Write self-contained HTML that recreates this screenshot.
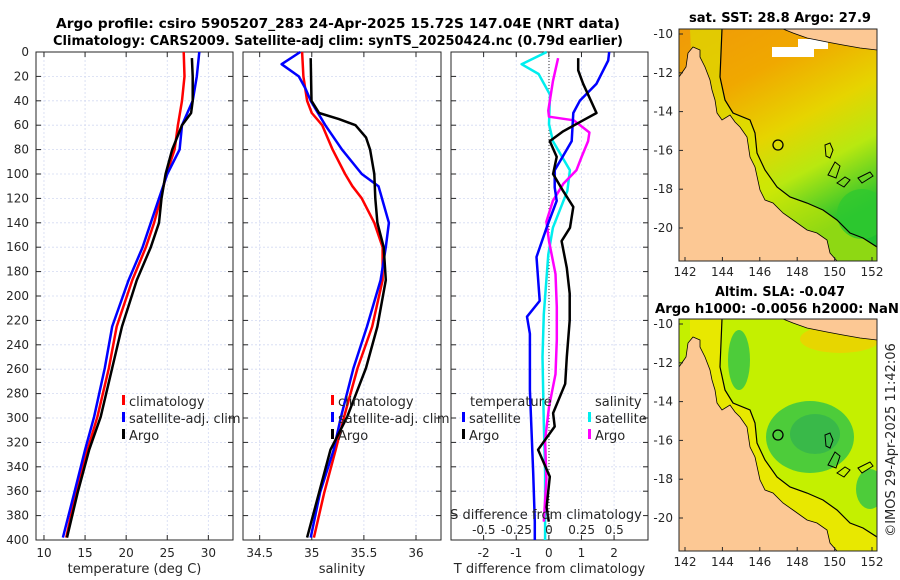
<!DOCTYPE html>
<html><head><meta charset="utf-8"><style>
body{margin:0;background:#fff}
svg{display:block;font-family:"DejaVu Sans","Liberation Sans",sans-serif}
.tk{font-size:12px;fill:#262626}
.ttl{font-size:13px;font-weight:bold;fill:#000}
.lab{font-size:13px;fill:#262626}
</style></head><body>
<svg id="fig" width="900" height="580" viewBox="0 0 900 580">
<text class="ttl" x="338" y="28" text-anchor="middle" textLength="564" lengthAdjust="spacingAndGlyphs">Argo profile: csiro 5905207_283 24-Apr-2025 15.72S 147.04E (NRT data)</text>
<text class="ttl" x="338" y="45" text-anchor="middle" textLength="570" lengthAdjust="spacingAndGlyphs">Climatology: CARS2009. Satellite-adj clim: synTS_20250424.nc (0.79d earlier)</text>
<g id="maps"></g>
<g id="panels"></g>
</svg>
<script>
// ---------- data ----------
const tDepthRed=[0,20,40,60,80,100,120,140,160,187,225,259,299,326,361,398];
const tClim=[27.0,27.1,26.8,26.3,25.9,24.9,24.2,23.4,22.4,20.75,18.85,17.9,16.5,15.3,13.9,12.7];
const tDepthBlack=[5,20,40,50,60,80,100,120,140,160,187,225,259,299,326,361,398];
const tArgo=[28.0,28.1,28.1,27.9,26.8,25.6,24.8,24.3,24.0,23.0,21.3,19.5,18.3,16.9,15.5,14.1,12.8];
const tDepthBlue=[0,20,40,60,80,100,120,140,160,187,225,259,299,326,361,398];
const tSat=[28.9,28.6,28.1,26.8,26.5,25.0,24.0,23.0,22.0,20.3,18.3,17.4,16.1,15.0,13.7,12.3];

const sDepthRed=[0,20,40,50,60,80,100,110,120,140,160,187,225,259,299,326,361,398];
const sClim=[34.907,34.92,34.955,35.0,35.10,35.20,35.32,35.39,35.48,35.60,35.68,35.68,35.58,35.44,35.31,35.23,35.12,35.02];
const sDepthBlack=[5,40,50,55,60,70,80,100,120,140,160,187,225,259,299,326,361,398];
const sArgo=[34.99,34.997,35.07,35.26,35.42,35.52,35.56,35.60,35.61,35.63,35.69,35.71,35.63,35.52,35.34,35.18,35.07,34.955];
const sDepthBlue=[0,10,20,30,40,60,80,100,110,140,160,187,225,259,299,326,361,398];
const sSat=[34.89,34.71,34.875,34.94,34.99,35.13,35.29,35.48,35.64,35.74,35.71,35.66,35.53,35.40,35.28,35.21,35.08,34.99];

const dtSatDepth=[0,7,26,40,50,73,85,97,111,122,144,168,204,217,231,277,345,385,400];
const dtSat=[1.85,1.82,1.46,0.95,0.75,0.70,0.44,0.18,0.18,0.24,-0.07,-0.38,-0.28,-0.67,-0.58,-0.58,-0.48,-0.43,-0.43];
const dtArgoDepth=[5,15,26,50,56,65,73,86,100,114,127,144,155,177,198,220,250,272,296,307,326,348,373,385];
const dtArgo=[0.90,0.90,1.05,1.46,1.05,0.44,0.03,0.24,0.13,0.44,0.75,0.65,0.39,0.55,0.64,0.64,0.55,0.50,0.13,0.18,-0.33,0.03,-0.07,0.0];
const dsSatDepth=[0,10,18,35,59,73,97,114,144,166,215,250,304,345,385,400];
const dsSat=[-0.018,-0.21,-0.08,0.008,0.0,0.03,0.16,0.14,0.03,-0.005,-0.04,-0.05,-0.04,-0.03,-0.03,-0.03];
const dsArgoDepth=[5,24,48,53,56,66,73,86,97,108,122,139,155,182,209,236,264,291,318,350,385];
const dsArgo=[0.07,0.03,-0.005,0.0,0.19,0.31,0.30,0.25,0.21,0.11,0.03,-0.02,0.0,0.05,0.06,0.06,0.05,0.0,-0.03,-0.02,-0.04];

const depthTicks=[0,20,40,60,80,100,120,140,160,180,200,220,240,260,280,300,320,340,360,380,400];
const tTicks=[10,15,20,25,30];
const sTicks=[34.5,35,35.5,36];
const dtTicks=[-2,-1,0,1,2];
const dsTicks=[-0.5,-0.25,0,0.25,0.5];
const dsTickLabels=['-0.5','-0.25','0','0.25','0.5'];
const lonTicks=[142,144,146,148,150,152];
const latTicks=[-10,-12,-14,-16,-18,-20];

// ---------- helpers ----------
const NS='http://www.w3.org/2000/svg';
function mk(tag,attrs,parent){const e=document.createElementNS(NS,tag);for(const k in attrs)e.setAttribute(k,attrs[k]);parent.appendChild(e);return e;}
const PT=52,PB=540;
const yD=d=>PT+d*(PB-PT)/400;
const panels=document.getElementById('panels');

function makePanel(name,x0,x1,xmin,xmax,ticks,tickLabels,xlabel,showY){
  const g=mk('g',{},panels);
  
  
  const sx=v=>x0+(v-xmin)*(x1-x0)/(xmax-xmin);
  depthTicks.forEach(d=>{if(d>0&&d<400){const l=mk('line',{x1:x0,x2:x1,y1:yD(d),y2:yD(d),stroke:'#d4daf2','stroke-width':0.8,'stroke-dasharray':'2,2'},g);
    }
    mk('line',{x1:x0,x2:x0+5,y1:yD(d),y2:yD(d),stroke:'#262626'},g);
    mk('line',{x1:x1-5,x2:x1,y1:yD(d),y2:yD(d),stroke:'#262626'},g);
    if(showY){const t=mk('text',{x:29,y:yD(d)+4,'text-anchor':'end',class:'tk'},g);t.textContent=d;
      }
  });
  ticks.forEach((v,i)=>{const X=sx(v);
    const l=mk('line',{x1:X,x2:X,y1:PT,y2:PB,stroke:'#d4daf2','stroke-width':0.8,'stroke-dasharray':'2,2'},g);
    
    mk('line',{x1:X,x2:X,y1:PB,y2:PB-5,stroke:'#262626'},g);
    mk('line',{x1:X,x2:X,y1:PT,y2:PT+5,stroke:'#262626'},g);
    const t=mk('text',{x:X,y:557,'text-anchor':'middle',class:'tk'},g);t.textContent=tickLabels?tickLabels[i]:v;
    
  });
  mk('rect',{x:x0,y:PT,width:x1-x0,height:PB-PT,fill:'none',stroke:'#262626','stroke-width':1},g);
  const xl=mk('text',{x:(x0+x1)/2,y:573,'text-anchor':'middle',class:'lab'},g);xl.textContent=xlabel;
  
  return {g,sx};
}
function line(p,sx,depths,vals,color,name){
  const pts=vals.map((v,i)=>sx(v).toFixed(1)+','+yD(depths[i]).toFixed(1)).join(' ');
  const l=mk('polyline',{points:pts,fill:'none',stroke:color,'stroke-width':2.5,'stroke-linejoin':'round'},p.g);
  
  
}
function legendEntry(g,x,y,color,label,name){
  const e=mk('g',{},g);
  
  
  mk('rect',{x:x,y:y-11,width:3,height:10,fill:color},e);
  const t=mk('text',{x:x+7,y:y,class:'lab'},e);t.textContent=label;
}

// Panel 1 temperature
const p1=makePanel('temperature-panel',36,233,9.03,33,tTicks,null,'temperature (deg C)',true);
line(p1,p1.sx,tDepthRed,tClim,'#ff0000','climatology-temperature-line');
line(p1,p1.sx,tDepthBlue,tSat,'#0000ff','satellite-temperature-line');
line(p1,p1.sx,tDepthBlack,tArgo,'#000000','argo-temperature-line');
legendEntry(p1.g,122,406,'#ff0000','climatology','legend-climatology');
legendEntry(p1.g,122,423,'#0000ff','satellite-adj. clim','legend-satellite');
legendEntry(p1.g,122,440,'#000000','Argo','legend-argo');

// Panel 2 salinity
const p2=makePanel('salinity-panel',243,441,34.34,36.24,sTicks,null,'salinity',false);
line(p2,p2.sx,sDepthRed,sClim,'#ff0000','climatology-salinity-line');
line(p2,p2.sx,sDepthBlue,sSat,'#0000ff','satellite-salinity-line');
line(p2,p2.sx,sDepthBlack,sArgo,'#000000','argo-salinity-line');
legendEntry(p2.g,331,406,'#ff0000','climatology','legend-climatology');
legendEntry(p2.g,331,423,'#0000ff','satellite-adj. clim','legend-satellite');
legendEntry(p2.g,331,440,'#000000','Argo','legend-argo');

// Panel 3 differences
const p3=makePanel('difference-panel',451,648,-3.0,3.04,dtTicks,null,'T difference from climatology',false);
const sxS=v=>549+v*130.4;
const z=mk('line',{x1:549,x2:549,y1:PT,y2:PB,stroke:'#333','stroke-width':1,'stroke-dasharray':'1,2'},p3.g);

line(p3,sxS,dsSatDepth,dsSat,'#00eeee','salinity-satellite-diff-line');
line(p3,sxS,dsArgoDepth,dsArgo,'#ff00ff','salinity-argo-diff-line');
line(p3,p3.sx,dtSatDepth,dtSat,'#0000ff','temperature-satellite-diff-line');
line(p3,p3.sx,dtArgoDepth,dtArgo,'#000000','temperature-argo-diff-line');
{const t=mk('text',{x:470,y:406,class:'lab'},p3.g);t.textContent='temperature';
 
 const s=mk('text',{x:595,y:406,class:'lab'},p3.g);s.textContent='salinity';
 }
legendEntry(p3.g,462,423,'#0000ff','satellite','legend-t-satellite');
legendEntry(p3.g,462,440,'#000000','Argo','legend-t-argo');
legendEntry(p3.g,588,423,'#00eeee','satellite','legend-s-satellite');
legendEntry(p3.g,588,440,'#ff00ff','Argo','legend-s-argo');
{const t=mk('text',{x:546,y:519,'text-anchor':'middle',class:'lab'},p3.g);t.textContent='S difference from climatology';
 
 dsTicks.forEach((v,i)=>{const k=mk('text',{x:sxS(v),y:534,'text-anchor':'middle',class:'tk'},p3.g);k.textContent=dsTickLabels[i];
  });}

// ---------- maps ----------
const maps=document.getElementById('maps');
const MX0=679,MX1=877;
function lonX(l){return 685+(l-142)*18.7;}
function buildMap(name,top,kind){
  const g=mk('g',{},maps);
  
  
  const dy=top-29;
  const T=(s)=>s.split(' ').map(p=>{const [x,y]=p.split(',');return x+','+(+y+dy);}).join(' ');
  const cid='clip'+kind;
  const cp=mk('clipPath',{id:cid},g);mk('rect',{x:MX0,y:top,width:MX1-MX0,height:232},cp);
  const inner=mk('g',{'clip-path':'url(#'+cid+')'},g);
  if(kind==='sst'){
    const defs=mk('defs',{},inner);
    const lg=mk('linearGradient',{id:'sstg',x1:0,y1:0,x2:0.45,y2:1},defs);
    [['0','#f09a08'],['0.3','#f0a800'],['0.55','#e6d400'],['0.75','#b8e810'],['1','#20c030']].forEach(s=>mk('stop',{offset:s[0],'stop-color':s[1]},lg));
    mk('rect',{x:MX0,y:top,width:198,height:232,fill:'url(#sstg)'},inner);
    mk('polygon',{points:T('722,29 720,77 725,100 733,113 750,120 755,133 757,153 765,170 777,187 790,197 807,203 823,210 837,220 850,233 863,238 877,247 877,261 700,261 690,29'),fill:'#d8e800',opacity:0.6},inner);
    mk('ellipse',{cx:862,cy:top+185,rx:25,ry:25,fill:'#30c830',opacity:0.8},inner);
    mk('rect',{x:772,y:top+18,width:42,height:10,fill:'#fff'},inner);
    mk('rect',{x:798,y:top+10,width:30,height:10,fill:'#fff'},inner);
  } else {
    mk('rect',{x:MX0,y:top,width:198,height:232,fill:'#c4f000'},inner);
    mk('polygon',{points:T('722,29 720,77 725,100 733,113 750,120 755,133 757,153 765,170 777,187 790,197 807,203 823,210 837,220 850,233 863,238 877,247 877,261 690,261 690,29'),fill:'#e8e800'},inner);
    mk('ellipse',{cx:739,cy:top+41,rx:11,ry:30,fill:'#40c840',opacity:0.9},inner);
    mk('ellipse',{cx:810,cy:top+118,rx:44,ry:36,fill:'#40c840',opacity:0.9},inner);
    mk('ellipse',{cx:815,cy:top+115,rx:25,ry:20,fill:'#30b050',opacity:0.7},inner);
    mk('ellipse',{cx:870,cy:top+170,rx:14,ry:20,fill:'#40c840',opacity:0.9},inner);
    mk('ellipse',{cx:840,cy:top+20,rx:40,ry:14,fill:'#f0d000',opacity:0.8},inner);
  }
  mk('polygon',{points:T('679,77 686,67 688,53 693,47 700,50 700,57 705,67 710,80 712,90 715,100 717,113 722,120 730,115 735,122 740,127 747,137 750,157 755,167 760,190 765,200 773,203 783,213 793,220 807,230 817,233 827,240 830,253 837,261 679,261'),fill:'#fcc894',stroke:'#000','stroke-width':0.8},inner);
  mk('polygon',{points:T('783,29 793,33 807,38 827,42 843,45 860,48 877,50 877,29'),fill:'#fcc894',stroke:'#000','stroke-width':0.8},inner);
  mk('polyline',{points:T('722,29 720,77 725,100 733,113 750,120 755,133 757,153 765,170 777,187 790,197 807,203 823,210 837,220 850,233 863,238 877,247'),fill:'none',stroke:'#000','stroke-width':1.2},inner);
  [T('825,145 830,143 833,150 830,158 826,156'),T('828,175 835,162 840,166 836,178'),T('837,183 845,177 850,180 844,187'),T('858,178 870,172 873,176 862,183')].forEach(p=>mk('polygon',{points:p,fill:'none',stroke:'#000','stroke-width':1},inner));
  const c=mk('circle',{cx:778,cy:top+116,r:5,fill:'none',stroke:'#000','stroke-width':1.3},inner);
  
  mk('rect',{x:MX0,y:top,width:198,height:232,fill:'none',stroke:'#262626'},g);
  latTicks.forEach(l=>{const Y=top+5+(-10-l)*19.4;
    mk('line',{x1:MX0,x2:MX0+4,y1:Y,y2:Y,stroke:'#262626'},g);
    const t=mk('text',{x:673,y:Y+4,'text-anchor':'end',class:'tk'},g);t.textContent=l;
    });
  lonTicks.forEach(l=>{const X=lonX(l);
    mk('line',{x1:X,x2:X,y1:top+232,y2:top+228,stroke:'#262626'},g);
    const t=mk('text',{x:X,y:top+247,'text-anchor':'middle',class:'tk'},g);t.textContent=l;
    });
}
buildMap('sst-map',29,'sst');
buildMap('sla-map',319,'sla');
const mt=[['sat. SST: 28.8 Argo: 27.9',780,22,'sst-map-title',182],['Altim. SLA: -0.047',780,296,'sla-map-title',130],['Argo h1000: -0.0056 h2000: NaN',777,313,'sla-map-subtitle',244]];
mt.forEach(m=>{const t=mk('text',{x:m[1],y:m[2],'text-anchor':'middle',class:'ttl',textLength:m[4],lengthAdjust:'spacingAndGlyphs'},maps);t.textContent=m[0];
  });
const cr=mk('text',{x:0,y:0,class:'lab',transform:'translate(895,440) rotate(-90)','text-anchor':'middle'},maps);
cr.textContent='©IMOS 29-Apr-2025 11:42:06';


</script>
</body></html>
